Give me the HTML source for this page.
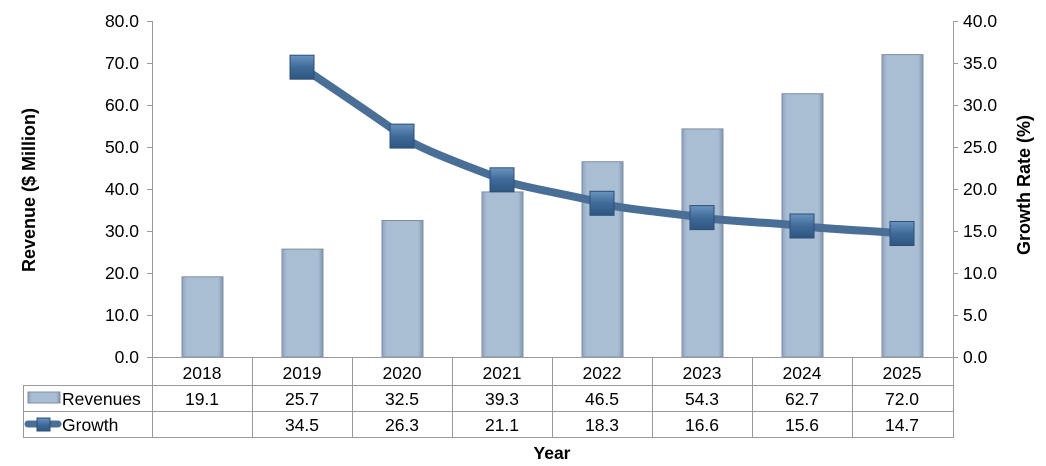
<!DOCTYPE html>
<html><head><meta charset="utf-8"><style>
html,body{margin:0;padding:0;background:#fff;width:1046px;height:466px;overflow:hidden}
svg{display:block;font-family:"Liberation Sans",Arial,sans-serif}
</style></head><body>
<svg width="1046" height="466" viewBox="0 0 1046 466" xmlns="http://www.w3.org/2000/svg">
<defs>
<linearGradient id="bar" x1="0" y1="0" x2="1" y2="0">
<stop offset="0" stop-color="#8ea3bc"/><stop offset="0.12" stop-color="#a9bdd3"/><stop offset="0.88" stop-color="#a9bdd3"/><stop offset="1" stop-color="#8196b0"/>
</linearGradient>
<linearGradient id="mk" x1="0" y1="0" x2="0" y2="1">
<stop offset="0" stop-color="#6b93c0"/><stop offset="0.5" stop-color="#3f6a99"/><stop offset="1" stop-color="#2f5680"/>
</linearGradient>
</defs>
<g stroke="#999" stroke-width="1" fill="none">
<line x1="152.5" y1="21" x2="152.5" y2="357"/>
<line x1="953.5" y1="21" x2="953.5" y2="357"/>
<line x1="147" y1="21.5" x2="152" y2="21.5"/><line x1="147" y1="63.5" x2="152" y2="63.5"/><line x1="147" y1="105.5" x2="152" y2="105.5"/><line x1="147" y1="147.5" x2="152" y2="147.5"/><line x1="147" y1="189.5" x2="152" y2="189.5"/><line x1="147" y1="231.5" x2="152" y2="231.5"/><line x1="147" y1="273.5" x2="152" y2="273.5"/><line x1="147" y1="315.5" x2="152" y2="315.5"/><line x1="147" y1="357.5" x2="152" y2="357.5"/>
<line x1="953" y1="21.5" x2="958" y2="21.5"/><line x1="953" y1="63.5" x2="958" y2="63.5"/><line x1="953" y1="105.5" x2="958" y2="105.5"/><line x1="953" y1="147.5" x2="958" y2="147.5"/><line x1="953" y1="189.5" x2="958" y2="189.5"/><line x1="953" y1="231.5" x2="958" y2="231.5"/><line x1="953" y1="273.5" x2="958" y2="273.5"/><line x1="953" y1="315.5" x2="958" y2="315.5"/><line x1="953" y1="357.5" x2="958" y2="357.5"/>
</g>
<g font-size="17.5" fill="#000" text-anchor="end">
<text x="139" y="27">80.0</text><text x="139" y="69">70.0</text><text x="139" y="111">60.0</text><text x="139" y="153">50.0</text><text x="139" y="195">40.0</text><text x="139" y="237">30.0</text><text x="139" y="279">20.0</text><text x="139" y="321">10.0</text><text x="139" y="363">0.0</text>
</g>
<g font-size="17.5" fill="#000" text-anchor="start">
<text x="963" y="27">40.0</text><text x="963" y="69">35.0</text><text x="963" y="111">30.0</text><text x="963" y="153">25.0</text><text x="963" y="195">20.0</text><text x="963" y="237">15.0</text><text x="963" y="279">10.0</text><text x="963" y="321">5.0</text><text x="963" y="363">0.0</text>
</g>
<text transform="translate(35,190) rotate(-90)" text-anchor="middle" font-size="18" font-weight="bold">Revenue ($ Million)</text>
<text transform="translate(1030,185) rotate(-90)" text-anchor="middle" font-size="18" font-weight="bold">Growth Rate (%)</text>
<g fill="url(#bar)" stroke="#7d8ea3" stroke-width="1">
<rect x="182" y="276.8" width="41" height="80.2"/>
<rect x="282" y="249.1" width="41" height="107.9"/>
<rect x="382" y="220.5" width="41" height="136.5"/>
<rect x="482" y="191.9" width="41" height="165.1"/>
<rect x="582" y="161.7" width="41" height="195.3"/>
<rect x="682" y="128.9" width="41" height="228.1"/>
<rect x="782" y="93.7" width="41" height="263.3"/>
<rect x="882" y="54.6" width="41" height="302.4"/>
</g>
<path d="M302,67.2 C318.7,78.7 385.3,122.7 402,136.1 S485.3,172.6 502,179.8 S585.3,197.6 602,203.3 S685.3,214.3 702,217.6 S785.3,223.3 802,226 S885.3,231.6 902,233.5" fill="none" stroke="#4a6f96" stroke-width="8" stroke-linecap="round"/>
<g fill="url(#mk)" stroke="#2c4f78" stroke-width="1">
<rect x="290" y="55.2" width="24" height="24"/>
<rect x="390" y="124.1" width="24" height="24"/>
<rect x="490" y="167.8" width="24" height="24"/>
<rect x="590" y="191.3" width="24" height="24"/>
<rect x="690" y="205.6" width="24" height="24"/>
<rect x="790" y="214" width="24" height="24"/>
<rect x="890" y="221.5" width="24" height="24"/>
</g>
<g stroke="#999" stroke-width="1" fill="none">
<line x1="152" y1="357.5" x2="953" y2="357.5"/>
<line x1="23" y1="385.5" x2="953" y2="385.5"/>
<line x1="23" y1="411.5" x2="953" y2="411.5"/>
<line x1="23" y1="437.5" x2="953" y2="437.5"/>
<line x1="23.5" y1="385" x2="23.5" y2="438"/>
<line x1="152.5" y1="357" x2="152.5" y2="438"/>
<line x1="252.5" y1="357" x2="252.5" y2="438"/>
<line x1="352.5" y1="357" x2="352.5" y2="438"/>
<line x1="452.5" y1="357" x2="452.5" y2="438"/>
<line x1="552.5" y1="357" x2="552.5" y2="438"/>
<line x1="652.5" y1="357" x2="652.5" y2="438"/>
<line x1="752.5" y1="357" x2="752.5" y2="438"/>
<line x1="852.5" y1="357" x2="852.5" y2="438"/>
<line x1="953.5" y1="357" x2="953.5" y2="438"/>
</g>
<g font-size="17.5" text-anchor="middle">
<text x="202" y="379">2018</text><text x="302" y="379">2019</text><text x="402" y="379">2020</text><text x="502" y="379">2021</text><text x="602" y="379">2022</text><text x="702" y="379">2023</text><text x="802" y="379">2024</text><text x="902" y="379">2025</text>
<text x="202" y="405">19.1</text><text x="302" y="405">25.7</text><text x="402" y="405">32.5</text><text x="502" y="405">39.3</text><text x="602" y="405">46.5</text><text x="702" y="405">54.3</text><text x="802" y="405">62.7</text><text x="902" y="405">72.0</text>
<text x="302" y="431">34.5</text><text x="402" y="431">26.3</text><text x="502" y="431">21.1</text><text x="602" y="431">18.3</text><text x="702" y="431">16.6</text><text x="802" y="431">15.6</text><text x="902" y="431">14.7</text>
</g>
<rect x="28" y="392" width="32" height="11" fill="url(#bar)" stroke="#7d8ea3"/>
<text x="62" y="405" font-size="17.5">Revenues</text>
<line x1="28" y1="424" x2="58" y2="424" stroke="#4a6f96" stroke-width="7" stroke-linecap="round"/>
<rect x="37" y="418" width="13" height="13" fill="url(#mk)" stroke="#2c4f78"/>
<text x="62" y="431" font-size="17.5">Growth</text>
<text x="552" y="459" font-size="17.5" font-weight="bold" text-anchor="middle">Year</text>
</svg>
</body></html>
